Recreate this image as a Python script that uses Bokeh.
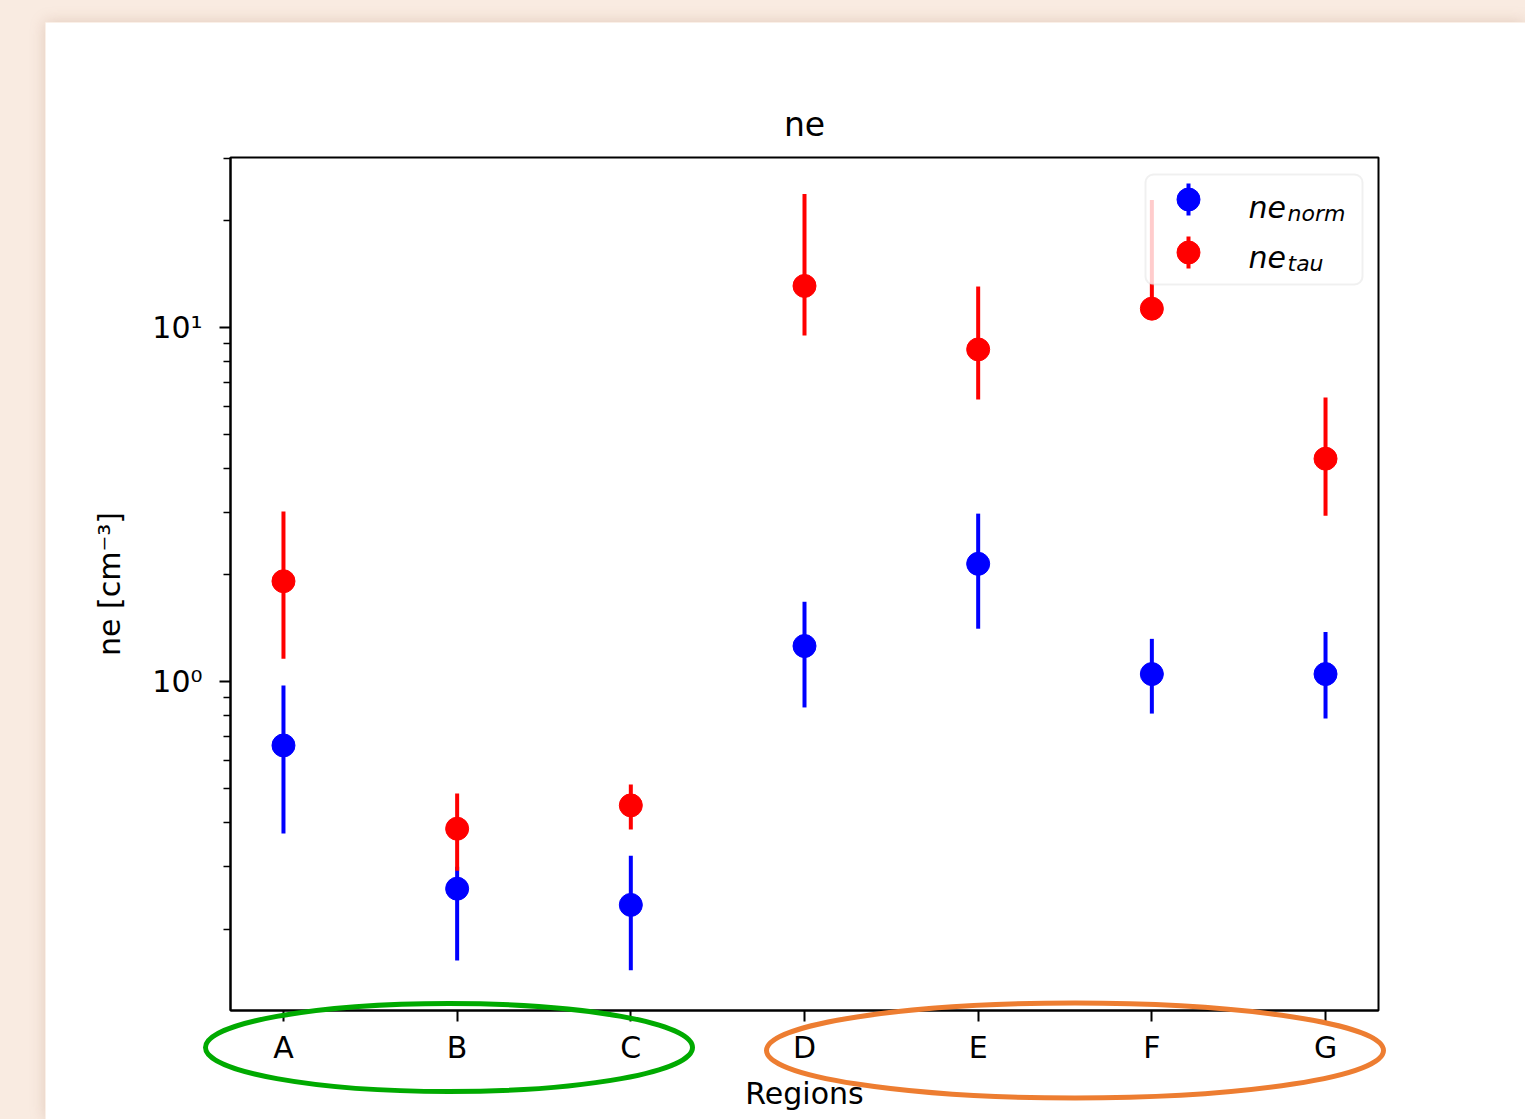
import numpy as np
from bokeh.plotting import figure
from bokeh.models import Range1d, FixedTicker, BoxAnnotation, Label
from bokeh.embed import file_html
from bokeh.resources import INLINE

# ---------------- data ----------------
regions = ["A", "B", "C", "D", "E", "F", "G"]
ne_norm = [0.66, 0.26, 0.234, 1.26, 2.15, 1.05, 1.05]
ne_norm_lo = [0.372, 0.163, 0.153, 0.845, 1.41, 0.812, 0.786]
ne_norm_hi = [0.974, 0.30, 0.322, 1.68, 2.98, 1.32, 1.38]
ne_tau = [1.92, 0.384, 0.447, 13.1, 8.67, 11.3, 4.26]
ne_tau_lo = [1.16, 0.292, 0.382, 9.49, 6.26, 10.8, 2.94]
ne_tau_hi = [3.02, 0.483, 0.512, 23.8, 13.05, 22.9, 6.34]
y_major = [1, 10]
y_major_labels = ["10\u2070", "10\u00b9"]
y_minor = [0.2, 0.3, 0.4, 0.5, 0.6, 0.7, 0.8, 0.9, 2, 3, 4, 5, 6, 7, 8, 9, 20, 30]

FONT = "DejaVu Sans"
W, H = 1480, 1097
OX, OY = 45, 22               # page offset of the white panel
FL, FT, FR, FB = 185, 135, 147, 109
FRAME_L, FRAME_T = OX + FL, OY + FT
FRAME_W, FRAME_H = W - FL - FR, H - FT - FB

x_lo, x_hi = -0.305, 6.305
ylog_lo, ylog_hi = -0.929, 1.480

def px2x(px):
    return x_lo + (px - FRAME_L) / FRAME_W * (x_hi - x_lo)

def py2y(py):
    return 10 ** (ylog_lo + (FRAME_T + FRAME_H - py) / FRAME_H * (ylog_hi - ylog_lo))

p = figure(width=W, height=H, x_range=Range1d(x_lo, x_hi),
           y_range=Range1d(10 ** ylog_lo, 10 ** ylog_hi), y_axis_type="log",
           output_backend="svg", toolbar_location=None, title="ne",
           min_border_left=FL, min_border_top=FT, min_border_right=FR, min_border_bottom=FB)

p.title.align = "center"
p.title.text_font = FONT
p.title.text_font_size = "33px"
p.title.text_font_style = "normal"
p.title.text_color = "black"
p.title.standoff = 27

p.outline_line_color = "black"
p.outline_line_width = 2
p.grid.visible = False

xs = list(range(len(regions)))
p.xaxis.ticker = FixedTicker(ticks=xs, minor_ticks=[])
p.xaxis.major_label_overrides = {i: r for i, r in zip(xs, regions)}
p.yaxis.ticker = FixedTicker(ticks=y_major, minor_ticks=y_minor)
p.yaxis.major_label_overrides = {v: s for v, s in zip(y_major, y_major_labels)}

p.xaxis.axis_label = "Regions"
p.yaxis.axis_label = "ne [cm\u207b\u00b3]"
for ax in (p.xaxis[0], p.yaxis[0]):
    ax.axis_line_color = "black"
    ax.axis_line_width = 2
    ax.major_tick_line_width = 2
    ax.major_tick_in = 0
    ax.major_tick_out = 11
    ax.minor_tick_in = 0
    ax.minor_tick_out = 7
    ax.minor_tick_line_width = 1.5
    ax.major_label_text_font = FONT
    ax.major_label_text_font_size = "30px"
    ax.major_label_text_color = "black"
    ax.axis_label_text_font = FONT
    ax.axis_label_text_font_size = "30px"
    ax.axis_label_text_font_style = "normal"
    ax.axis_label_text_color = "black"
p.xaxis.major_label_standoff = 8
p.xaxis.axis_label_standoff = 8
p.yaxis.major_label_standoff = 17
p.yaxis.axis_label_standoff = 22

BLUE, RED = "#0000ff", "#ff0000"
p.segment(x0=xs, y0=ne_norm_lo, x1=xs, y1=ne_norm_hi, line_color=BLUE, line_width=4)
p.scatter(x=xs, y=ne_norm, size=23, marker="circle", fill_color=BLUE, line_color=BLUE)
p.segment(x0=xs, y0=ne_tau_lo, x1=xs, y1=ne_tau_hi, line_color=RED, line_width=4)
p.scatter(x=xs, y=ne_tau, size=23, marker="circle", fill_color=RED, line_color=RED)

# ---------------- legend (drawn by hand for the subscripts) ----------------
box = BoxAnnotation(left=px2x(1145), right=px2x(1362), top=py2y(174), bottom=py2y(284),
                    fill_color="white", fill_alpha=0.8, line_color="#cccccc",
                    line_width=2, border_radius=8, level="annotation")
p.add_layout(box)
for (col, cy, main_base, sub, sub_base) in [(BLUE, 199, 207, "norm", 213), (RED, 252, 257, "tau", 263)]:
    lx = px2x(1188)
    r1 = p.segment(x0=[lx], y0=[py2y(cy + 16)], x1=[lx], y1=[py2y(cy - 16)], line_color=col, line_width=4)
    r2 = p.scatter(x=[lx], y=[py2y(cy)], size=23, marker="circle", fill_color=col, line_color=col)
    r1.level = "overlay"
    r2.level = "overlay"
    p.add_layout(Label(x=px2x(1248), y=py2y(main_base), text="ne", text_font=FONT,
                       text_font_style="italic", text_font_size="30px", text_color="black",
                       text_baseline="alphabetic", level="overlay"))
    p.add_layout(Label(x=px2x(1287), y=py2y(sub_base), text=sub, text_font=FONT,
                       text_font_style="italic", text_font_size="22px", text_color="black",
                       text_baseline="alphabetic", level="overlay"))
p.styles = {"box-shadow": "0 0 14px rgba(170,120,95,0.28)"}

# ---------------- transparent overlay figure (separate root) for the highlight ellipses ----------------
ov = figure(width=W, height=H, x_range=Range1d(0, W), y_range=Range1d(H, 0),
            output_backend="svg", toolbar_location=None,
            min_border=0, min_border_left=0, min_border_right=0,
            min_border_top=0, min_border_bottom=0)
ov.axis.visible = False
ov.grid.visible = False
ov.outline_line_color = None
ov.background_fill_alpha = 0
ov.border_fill_alpha = 0
ell_cx = [448.5 - OX, 1074.5 - OX]
ell_cy = [1047 - OY, 1050 - OY]
ell_w = [487, 617]
ell_h = [88, 95]
ell_col = ["#00aa00", "#ed7d31"]
ov.ellipse(x=ell_cx, y=ell_cy, width=ell_w, height=ell_h, fill_alpha=0,
           line_color=ell_col, line_width=5)
ov.styles = {"position": "absolute", "top": f"{OY}px", "left": f"{OX}px", "pointer-events": "none"}

html = file_html([p, ov], INLINE, title="ne")
css = ("<style>html,body{margin:0 !important;padding:0 !important;overflow:hidden !important;"
       "background:#f9ebe1 !important;}"
       f"body{{position:relative !important;padding:{OY}px 0 0 {OX}px !important;}}</style>")
html = html.replace("</head>", css + "</head>", 1)
open("out.html", "w").write(html)
